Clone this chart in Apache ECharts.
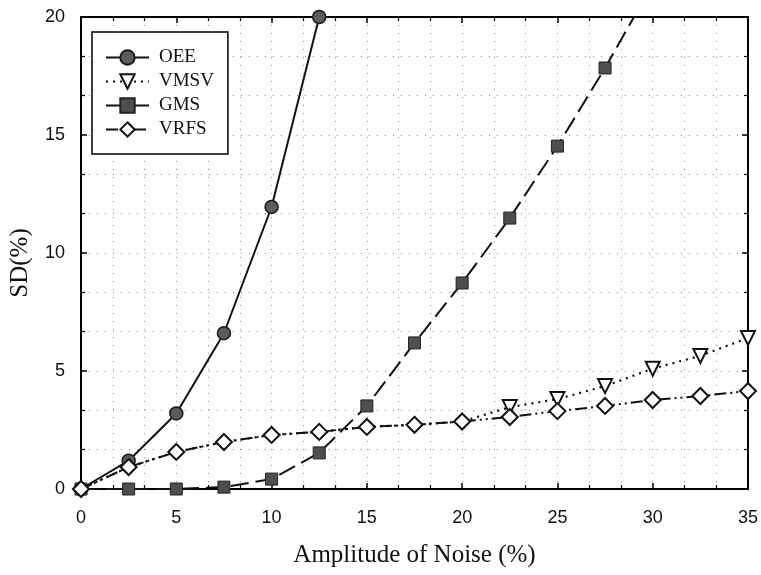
<!DOCTYPE html>
<html>
<head>
<meta charset="utf-8">
<script src="https://cdn.jsdelivr.net/npm/echarts@6/dist/echarts.min.js"></script>
<style>
html,body{margin:0;padding:0;background:#fff;}
#chart{width:761px;height:575px;}
</style>
</head>
<body>
<div id="chart"></div>
<script>
// ---- data ----
var xTicks = [0, 5, 10, 15, 20, 25, 30, 35];
var yTicks = [0, 5, 10, 15, 20];
var xValues = [0, 2.5, 5, 7.5, 10, 12.5, 15, 17.5, 20, 22.5, 25, 27.5, 30, 32.5, 35];
var oee  = [0, 1.2, 3.2, 6.6, 11.95, 20];
var vmsv = [0, 0.93, 1.57, 1.99, 2.29, 2.42, 2.63, 2.72, 2.86, 3.47, 3.81, 4.36, 5.1, 5.64, 6.4];
var gms  = [0, 0, 0, 0.08, 0.42, 1.53, 3.52, 6.19, 8.73, 11.48, 14.53, 17.84, 21.4];
var vrfs = [0, 0.93, 1.57, 1.99, 2.29, 2.42, 2.63, 2.72, 2.86, 3.05, 3.3, 3.52, 3.77, 3.94, 4.15];
var vmsvMarkerFrom = 22.5; // triangles visible from here on (hidden under diamonds before)

function pairs(vals, hideBelow) {
  return vals.map(function (v, i) {
    var p = { value: [xValues[i], v] };
    if (hideBelow !== undefined && xValues[i] < hideBelow) p.symbol = 'none';
    return p;
  });
}

var chart = echarts.init(document.getElementById('chart'), null, { renderer: 'canvas' });
var gridDot = { color: '#8a8a8a', width: 1, type: [1, 7] };
var axisBlack = { color: '#000', width: 2 };

var option = {
  backgroundColor: '#fff',
  animation: false,
  grid: { left: 78, right: 11, top: 17, bottom: 86, containLabel: false },
  legend: {
    orient: 'vertical',
    left: 92, top: 32,
    width: 110,
    padding: [16, 14, 15, 13],
    itemGap: 5,
    itemWidth: 43, itemHeight: 18,
    borderColor: '#000', borderWidth: 1.5,
    backgroundColor: '#fff',
    textStyle: { fontFamily: 'Liberation Serif', fontSize: 19, color: '#111', padding: [0, 0, 0, 5] },
    data: ['OEE', 'VMSV', 'GMS', 'VRFS']
  },
  xAxis: [{
    type: 'value', min: xTicks[0], max: xTicks[xTicks.length - 1], interval: xTicks[1] - xTicks[0],
    position: 'bottom',
    name: 'Amplitude of Noise (%)', nameLocation: 'middle', nameGap: 54,
    nameTextStyle: { fontFamily: 'Liberation Serif', fontSize: 25, color: '#111' },
    axisLine: { show: true, onZero: false, lineStyle: axisBlack },
    axisTick: { show: true, inside: true, length: 6, lineStyle: { color: '#000', width: 1.5 } },
    minorTick: { show: true, splitNumber: 3, length: 4, lineStyle: { color: '#000', width: 1.2 } },
    axisLabel: { margin: 20, fontFamily: 'Liberation Sans', fontSize: 18, color: '#111' },
    splitLine: { show: true, lineStyle: gridDot },
    minorSplitLine: { show: true, lineStyle: gridDot }
  }, {
    type: 'value', min: xTicks[0], max: xTicks[xTicks.length - 1], interval: xTicks[1] - xTicks[0],
    position: 'top',
    axisLine: { show: true, onZero: false, lineStyle: axisBlack },
    axisTick: { show: true, inside: true, length: 6, lineStyle: { color: '#000', width: 1.5 } },
    minorTick: { show: true, splitNumber: 3, length: 4, lineStyle: { color: '#000', width: 1.2 } },
    axisLabel: { show: false },
    splitLine: { show: false }
  }],
  yAxis: [{
    type: 'value', min: yTicks[0], max: yTicks[yTicks.length - 1], interval: yTicks[1] - yTicks[0],
    position: 'left',
    name: 'SD(%)', nameLocation: 'middle', nameGap: 48,
    nameTextStyle: { fontFamily: 'Liberation Serif', fontSize: 25, color: '#111', padding: [0, 20, 0, 0] },
    axisLine: { show: true, onZero: false, lineStyle: axisBlack },
    axisTick: { show: true, inside: true, length: 6, lineStyle: { color: '#000', width: 1.5 } },
    minorTick: { show: true, splitNumber: 3, length: 4, lineStyle: { color: '#000', width: 1.2 } },
    axisLabel: { margin: 16, fontFamily: 'Liberation Sans', fontSize: 18, color: '#111' },
    splitLine: { show: true, lineStyle: gridDot },
    minorSplitLine: { show: true, lineStyle: gridDot }
  }, {
    type: 'value', min: yTicks[0], max: yTicks[yTicks.length - 1], interval: yTicks[1] - yTicks[0],
    position: 'right',
    axisLine: { show: true, onZero: false, lineStyle: axisBlack },
    axisTick: { show: true, inside: true, length: 6, lineStyle: { color: '#000', width: 1.5 } },
    minorTick: { show: true, splitNumber: 3, length: 4, lineStyle: { color: '#000', width: 1.2 } },
    axisLabel: { show: false },
    splitLine: { show: false }
  }],
  series: [{
    name: 'OEE', type: 'line', z: 3,
    data: pairs(oee),
    symbol: 'circle', symbolSize: 13,
    lineStyle: { color: '#111', width: 2, type: 'solid' },
    itemStyle: { color: '#5c5c5c', borderColor: '#1a1a1a', borderWidth: 1.5 }
  }, {
    name: 'VMSV', type: 'line', z: 4,
    data: pairs(vmsv, vmsvMarkerFrom),
    symbol: 'triangle', symbolRotate: 180, symbolSize: 14,
    lineStyle: { color: '#111', width: 2.2, type: [2, 5] },
    itemStyle: { color: '#fff', borderColor: '#111', borderWidth: 2 }
  }, {
    name: 'GMS', type: 'line', z: 3,
    data: pairs(gms),
    symbol: 'rect', symbolSize: 12,
    lineStyle: { color: '#111', width: 2, type: [18, 7] },
    itemStyle: { color: '#4e4e4e', borderColor: '#222', borderWidth: 1 }
  }, {
    name: 'VRFS', type: 'line', z: 5,
    data: pairs(vrfs),
    symbol: 'diamond', symbolSize: 16,
    lineStyle: { color: '#111', width: 2, type: [12, 4, 2, 4, 2, 4] },
    itemStyle: { color: '#fff', borderColor: '#111', borderWidth: 2 }
  }]
};
chart.setOption(option);
</script>
</body>
</html>
